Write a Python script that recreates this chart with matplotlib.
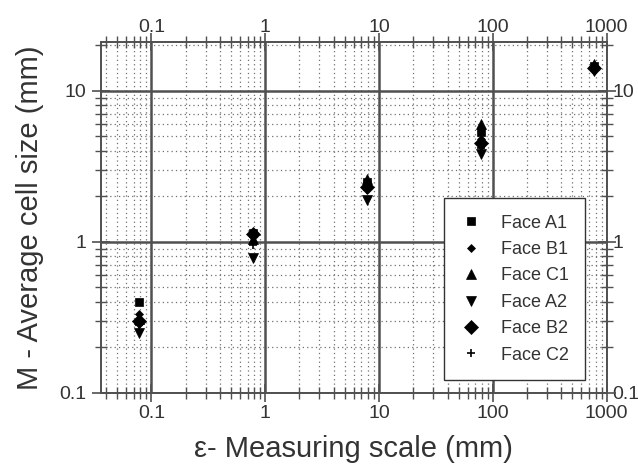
#!/usr/bin/env python3
"""Average cell size vs measuring scale, log-log scatter."""

import matplotlib
matplotlib.use("Agg")
import matplotlib.pyplot as plt
from matplotlib.ticker import LogLocator, FixedLocator, FixedFormatter, NullFormatter, NullLocator

# measuring scales (mm)
scales = [0.078, 0.78, 7.8, 78, 780]

# average cell size (mm) per face
face_a1 = [0.40, 1.15, 2.5, 5.3, 14.5]
face_b1 = [0.33, 1.10, 2.4, 4.8, 14.0]
face_c1 = [0.31, 1.05, 2.6, 6.0, 15.0]
face_a2 = [0.25, 0.78, 1.9, 3.8, 13.5]
face_b2 = [0.30, 1.12, 2.3, 4.5, 14.2]
face_c2 = [0.28, 0.95, 2.2, 4.2, 13.8]

labels = ["Face A1", "Face B1", "Face C1", "Face A2", "Face B2", "Face C2"]
tick_vals = [0.1, 1, 10, 100, 1000]
tick_text = ["0.1", "1", "10", "100", "1000"]
ytick_vals = [0.1, 1, 10]
ytick_text = ["0.1", "1", "10"]

plt.rcParams["font.family"] = ["Liberation Sans", "DejaVu Sans"]
txt = "#333333"
gcol = "#505050"

fig = plt.figure(figsize=(6.38, 4.66), dpi=100)
ax = fig.add_axes([0.158, 0.157, 0.793, 0.753])

series = [face_a1, face_b1, face_c1, face_a2, face_b2, face_c2]
styles = [("s", 5.5), ("D", 4.5), ("^", 7.5), ("v", 7.5), ("D", 7), ("+", 5.5)]
for vals, (m, s), lab in zip(series, styles, labels):
    ax.plot(scales, vals, linestyle="none", marker=m, markersize=s,
            color="black", markeredgewidth=1.2 if m == "+" else 0.5, label=lab)

ax.set_xscale("log")
ax.set_yscale("log")
ax.set_xlim(0.036, 1000)
ax.set_ylim(0.1, 21)

ax.xaxis.set_major_locator(FixedLocator(tick_vals))
ax.xaxis.set_major_formatter(FixedFormatter(tick_text))
ax.yaxis.set_major_locator(FixedLocator(ytick_vals))
ax.yaxis.set_major_formatter(FixedFormatter(ytick_text))
ax.xaxis.set_minor_locator(LogLocator(base=10, subs=range(2, 10), numticks=20))
ax.yaxis.set_minor_locator(LogLocator(base=10, subs=range(2, 10), numticks=20))
ax.xaxis.set_minor_formatter(NullFormatter())
ax.yaxis.set_minor_formatter(NullFormatter())

ax.grid(True, which="major", color=gcol, linewidth=1.8)
ax.grid(True, which="minor", color="#707070", linewidth=0.9, linestyle=(0, (1, 2.5)))
ax.set_axisbelow(True)

ax.tick_params(which="major", direction="inout", length=13, width=1.2, color=gcol,
               labelsize=14, labelcolor=txt, top=True, right=True,
               labeltop=False, labelright=False)
ax.tick_params(axis="x", which="major", pad=2)
ax.tick_params(axis="y", which="major", pad=4)
ax.tick_params(which="minor", direction="inout", length=8, width=1, color=gcol,
               top=True, right=True)
for sp in ax.spines.values():
    sp.set_color(gcol)
    sp.set_linewidth(1.4)

# labels on the top and right edges
top = ax.secondary_xaxis("top")
top.xaxis.set_major_locator(FixedLocator(tick_vals))
top.xaxis.set_major_formatter(FixedFormatter(tick_text))
top.xaxis.set_minor_locator(NullLocator())
top.tick_params(length=0, pad=4, labelsize=14, labelcolor=txt)
top.spines["top"].set_visible(False)

right = ax.secondary_yaxis("right")
right.yaxis.set_major_locator(FixedLocator(ytick_vals))
right.yaxis.set_major_formatter(FixedFormatter(ytick_text))
right.yaxis.set_minor_locator(NullLocator())
right.tick_params(length=0, pad=4.3, labelsize=14, labelcolor=txt)
right.spines["right"].set_visible(False)

ax.set_xlabel("\u03b5- Measuring scale (mm)", fontsize=21, color=txt, labelpad=9.5)
ax.set_ylabel("M - Average cell size (mm)", fontsize=21, color=txt, labelpad=11)

leg = ax.legend(loc="lower right", bbox_to_anchor=(0.9565, 0.037), borderaxespad=0,
                fontsize=13, frameon=True, fancybox=False, edgecolor="#333333",
                framealpha=1, handlelength=1.2, handletextpad=1.05,
                labelspacing=0.52, borderpad=0.9, labelcolor=txt)
leg.get_frame().set_linewidth(1.0)

fig.savefig("out.png", dpi=100)
